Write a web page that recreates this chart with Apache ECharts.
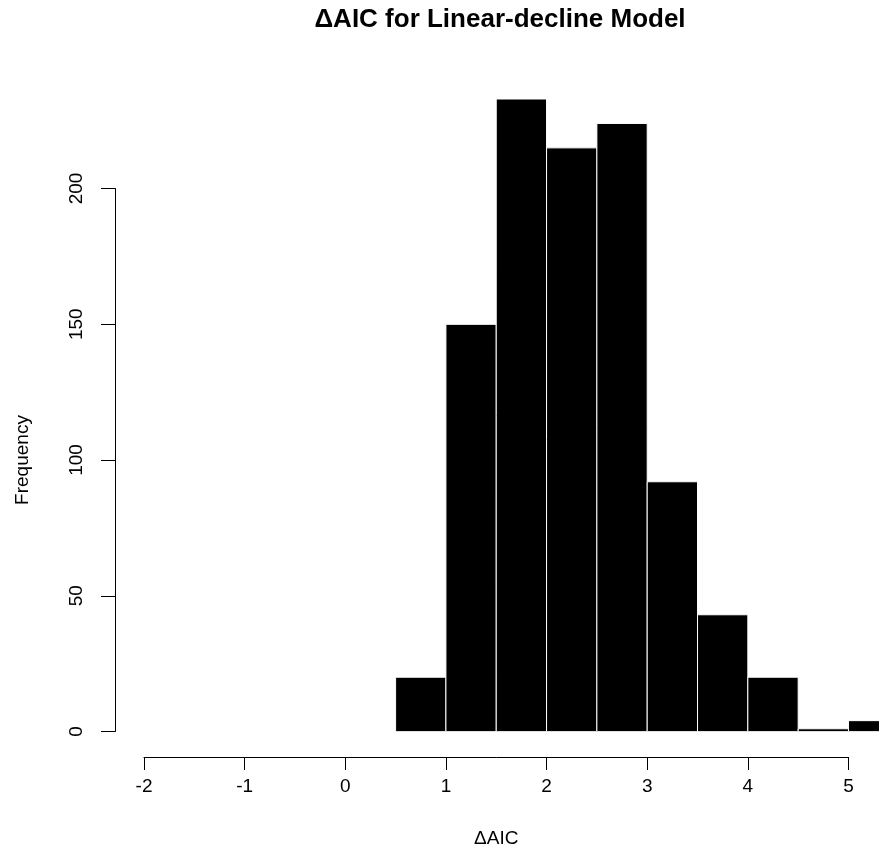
<!DOCTYPE html>
<html>
<head>
<meta charset="utf-8">
<script src="https://cdn.jsdelivr.net/npm/echarts@6/dist/echarts.min.js"></script>
<style>html,body{margin:0;padding:0;background:#fff}#c{width:879px;height:865px}</style>
</head>
<body>
<div id="c"></div>
<script>
const binStarts = [0.5, 1.0, 1.5, 2.0, 2.5, 3.0, 3.5, 4.0, 4.5, 5.0];
const binEnds   = [1.0, 1.5, 2.0, 2.5, 3.0, 3.5, 4.0, 4.5, 5.0, 5.5];
const counts    = [20, 150, 233, 215, 224, 92, 43, 20, 1, 4];
const xTicks = [-2, -1, 0, 1, 2, 3, 4, 5];
const yTicks = [0, 50, 100, 150, 200];
const titleText = '\u0394AIC for Linear-decline Model';
const xLabel = '\u0394AIC';
const yLabel = 'Frequency';

const FONT = 'Liberation Sans, Arial, Helvetica, sans-serif';
const chart = echarts.init(document.getElementById('c'), null, {renderer: 'canvas'});

const barData = binStarts.map((s, i) => [s, binEnds[i], counts[i]]);

// plot area: x=-2 at 144px, 100.64 px per unit; runs to the canvas edge
const PX_PER_UNIT = 100.64;
const plotLeft = 144, plotWidth = 879 - 144;

chart.setOption({
  animation: false,
  backgroundColor: '#ffffff',
  title: {
    text: titleText,
    left: 495, top: 2, textAlign: 'center',
    textStyle: {fontFamily: FONT, fontWeight: 'bold', fontSize: 26, color: '#000'}
  },
  grid: [
    {left: plotLeft, width: plotWidth, top: 80, height: 651.5},
    {left: 115, width: 1, top: 188.5, height: 543},
    {left: plotLeft, width: 7 * PX_PER_UNIT, top: 756, height: 1}
  ],
  xAxis: [
    {gridIndex: 0, type: 'value', min: -2, max: -2 + plotWidth / PX_PER_UNIT, show: false},
    {gridIndex: 1, type: 'value', min: 0, max: 1, show: false},
    {gridIndex: 2, type: 'value', min: xTicks[0], max: xTicks[xTicks.length - 1], interval: 1,
     position: 'bottom',
     axisLine: {show: true, lineStyle: {color: '#000', width: 1}},
     axisTick: {show: true, length: 13, lineStyle: {color: '#000', width: 1}},
     axisLabel: {show: true, margin: 20, color: '#000', fontFamily: FONT, fontSize: 19,
       formatter: v => xTicks.includes(v) ? String(v) : ''},
     splitLine: {show: false},
     name: xLabel, nameLocation: 'middle', nameGap: 72,
     nameTextStyle: {color: '#000', fontFamily: FONT, fontSize: 19}}
  ],
  yAxis: [
    {gridIndex: 0, type: 'value', min: 0, max: 240, show: false},
    {gridIndex: 1, type: 'value', min: yTicks[0], max: yTicks[yTicks.length - 1], interval: 50,
     position: 'left',
     axisLine: {show: true, lineStyle: {color: '#000', width: 1}},
     axisTick: {show: true, length: 14, lineStyle: {color: '#000', width: 1}},
     axisLabel: {show: true, rotate: 90, margin: 29, color: '#000', fontFamily: FONT, fontSize: 19},
     splitLine: {show: false},
     name: yLabel, nameLocation: 'middle', nameGap: 83, nameRotate: 90,
     nameTextStyle: {color: '#000', fontFamily: FONT, fontSize: 19}},
    {gridIndex: 2, type: 'value', min: 0, max: 1, show: false}
  ],
  series: [{
    type: 'custom',
    xAxisIndex: 0, yAxisIndex: 0,
    data: barData,
    clip: true,
    renderItem: function (params, api) {
      const p0 = api.coord([api.value(0), api.value(2)]);
      const p1 = api.coord([api.value(1), 0]);
      return {
        type: 'rect',
        shape: {x: p0[0], y: p0[1], width: p1[0] - p0[0], height: p1[1] - p0[1]},
        style: {fill: '#000', stroke: '#fff', lineWidth: 1}
      };
    }
  }]
});
</script>
</body>
</html>
